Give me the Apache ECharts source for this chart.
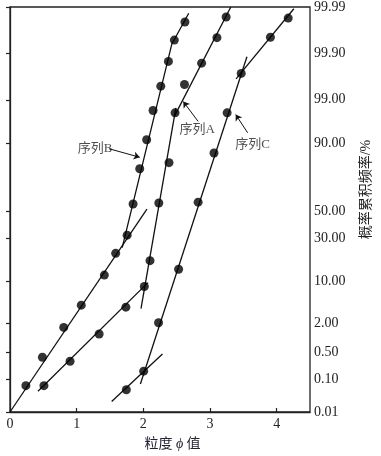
<!DOCTYPE html>
<html><head><meta charset="utf-8">
<script src="https://cdn.jsdelivr.net/npm/echarts@6/dist/echarts.min.js"></script>
<style>html,body{margin:0;padding:0;background:#fff}#c{width:381px;height:456px}</style>
</head><body><div id="c"></div>
<script>
// ---- axis definitions ----
const xTicks = [0, 1, 2, 3, 4];
const yTickValues = [0.01, 0.1, 0.5, 2, 10, 30, 50, 90, 99, 99.9, 99.99];
const yTickLabels = ['0.01', '0.10', '0.50', '2.00', '10.00', '30.00', '50.00', '90.00', '99.00', '99.90', '99.99'];
// gauge of the printed probability paper (axis units of each tick)
const yTickScale = [0, 32.7, 60.3, 89, 131.3, 173.7, 201.3, 269, 313, 359.7, 406];

// ---- data: particle size (phi) and cumulative frequency (%) ----
const seriesNames = ['序列A', '序列B', '序列C'];
const phiA = [3.242, 3.104, 2.874, 2.617, 2.476, 2.385, 2.232, 2.100, 2.015, 1.738, 1.337, 0.901, 0.509];
const pctA = [99.983, 99.952, 99.829, 99.50, 97.81, 82.15, 56.2, 17.96, 8.34, 3.92, 1.22, 0.297, 0.066];
const phiB = [2.624, 2.465, 2.376, 2.262, 2.146, 2.050, 1.946, 1.846, 1.757, 1.585, 1.415, 1.069, 0.806, 0.486, 0.238];
const pctB = [99.978, 99.946, 99.844, 99.46, 98.08, 91.55, 79.0, 55.4, 32.4, 21.6, 12.0, 4.24, 1.66, 0.371, 0.066];
const phiC = [4.173, 3.906, 3.468, 3.257, 3.06, 2.822, 2.529, 2.228, 2.005, 1.745];
const pctC = [99.982, 99.953, 99.71, 97.81, 86.54, 56.8, 14.2, 2.04, 0.166, 0.050];

// fitted population segments: [phi, pct] vertices
const fitA = [[[3.312, 99.99], [2.465, 97.32]], [[2.488, 98.36], [1.965, 3.71]], [[0.420, 0.045], [2.069, 9.50]]];
const fitB = [[[2.681, 99.986], [2.428, 99.935], [1.683, 24.7]], [[0, 0.01], [2.054, 51.6]]];
const fitC = [[[4.258, 99.989], [3.391, 99.62]], [[3.554, 99.878], [1.956, 0.074]], [[1.525, 0.0217], [2.287, 0.443]]];

// annotation anchors [phi, pct]
const labelPos = [[2.807, 94.66], [1.277, 88.43], [3.639, 89.64]];
const arrowFrom = [[2.822, 96.49], [1.485, 88.2], [3.564, 93.84]];
const arrowTo = [[2.599, 98.88], [1.946, 84.7], [3.386, 97.58]];

// ---- probability scale ----
function probit(p) {
  const a = [-3.969683028665376e+01, 2.209460984245205e+02, -2.759285104469687e+02, 1.383577518672690e+02, -3.066479806614716e+01, 2.506628277459239e+00];
  const b = [-5.447609879822406e+01, 1.615858368580409e+02, -1.556989798598866e+02, 6.680131188771972e+01, -1.328068155288572e+01];
  const c = [-7.784894002430293e-03, -3.223964580411365e-01, -2.400758277161838e+00, -2.549732539343734e+00, 4.374664141464968e+00, 2.938163982698783e+00];
  const d = [7.784695709041462e-03, 3.224671290700398e-01, 2.445134137142996e+00, 3.754408661907416e+00];
  const pl = 0.02425, ph = 1 - pl; let q, r;
  if (p < pl) { q = Math.sqrt(-2 * Math.log(p)); return (((((c[0]*q+c[1])*q+c[2])*q+c[3])*q+c[4])*q+c[5]) / ((((d[0]*q+d[1])*q+d[2])*q+d[3])*q+1); }
  if (p > ph) { q = Math.sqrt(-2 * Math.log(1 - p)); return -(((((c[0]*q+c[1])*q+c[2])*q+c[3])*q+c[4])*q+c[5]) / ((((d[0]*q+d[1])*q+d[2])*q+d[3])*q+1); }
  q = p - 0.5; r = q * q;
  return (((((a[0]*r+a[1])*r+a[2])*r+a[3])*r+a[4])*r+a[5])*q / (((((b[0]*r+b[1])*r+b[2])*r+b[3])*r+b[4])*r+1);
}
const tickZ = yTickValues.map(v => probit(v / 100));
function toAxis(pct) {
  const z = probit(pct / 100);
  let i = 0;
  while (i < tickZ.length - 2 && z > tickZ[i + 1]) i++;
  const f = (z - tickZ[i]) / (tickZ[i + 1] - tickZ[i]);
  return yTickScale[i] + f * (yTickScale[i + 1] - yTickScale[i]);
}
const pt = d => [d[0], toAxis(d[1])];

const INK = '#111';
const FONT = '"Liberation Serif", "Noto Sans CJK SC", serif';
const points = [[phiA, pctA], [phiB, pctB], [phiC, pctC]];
const fits = [fitA, fitB, fitC];

const series = [];
fits.forEach((segs, k) => {
  segs.forEach(seg => {
    series.push({
      type: 'line', name: seriesNames[k] + '拟合', data: seg.map(pt), symbol: 'none', silent: true,
      lineStyle: { color: INK, width: 1.3 }, z: 2
    });
  });
});
points.forEach(([xs, ps], k) => {
  series.push({
    type: 'scatter', name: seriesNames[k], data: xs.map((x, i) => [x, toAxis(ps[i])]),
    symbol: 'circle', symbolSize: 9, itemStyle: { color: '#000' }, z: 3
  });
});
series.push({
  type: 'scatter', name: 'labels', symbolSize: 0, silent: true,
  data: labelPos.map((p, i) => ({ value: pt(p), label: { formatter: seriesNames[i] } })),
  label: { show: true, position: 'inside', color: '#222', fontSize: 13, fontFamily: FONT }
});
series.push({
  type: 'lines', coordinateSystem: 'cartesian2d', silent: true,
  symbol: ['none', 'arrow'], symbolSize: 6,
  lineStyle: { color: INK, width: 1, opacity: 1 },
  data: arrowFrom.map((f, i) => ({ coords: [pt(f), pt(arrowTo[i])] }))
});

const chart = echarts.init(document.getElementById('c'), null, { renderer: 'canvas' });
chart.setOption({
  animation: false,
  backgroundColor: '#fff',
  grid: { left: 10, right: 68, top: 7, bottom: 43, show: true, borderColor: '#222', borderWidth: 1.3, backgroundColor: 'transparent' },
  xAxis: {
    type: 'value', min: 0, max: 4.5,
    name: '{a|粒度 }{b|ϕ}{a| 值}', nameLocation: 'middle', nameGap: 25,
    nameTextStyle: { padding: [0, 0, 0, 25], rich: {
      a: { fontSize: 14, color: '#223', fontFamily: FONT },
      b: { fontSize: 14, color: '#223', fontFamily: FONT, fontStyle: 'italic' } } },
    axisLine: { lineStyle: { color: '#222', width: 1.3 } },
    axisTick: { inside: true, length: 4, lineStyle: { color: '#222', width: 1.2 }, customValues: xTicks },
    axisLabel: { color: '#222', fontSize: 14, fontFamily: FONT, margin: 5, customValues: xTicks },
    splitLine: { show: false }
  },
  yAxis: {
    type: 'value', position: 'right', min: 0, max: yTickScale[yTickScale.length - 1],
    name: '概率累积频率/%', nameLocation: 'middle', nameGap: 49, nameRotate: 90,
    nameTextStyle: { color: '#222', fontSize: 14, fontFamily: FONT, padding: [0, 0, 0, 40] },
    axisLine: { show: true, lineStyle: { color: '#222', width: 1.3 } },
    axisTick: { show: true, inside: true, length: 4, lineStyle: { color: '#222', width: 1.2 }, customValues: yTickScale },
    axisLabel: { color: '#222', fontSize: 14, fontFamily: FONT, margin: 4, customValues: yTickScale,
      formatter: v => { const i = yTickScale.findIndex(t => Math.abs(t - v) < 1e-6); return i >= 0 ? yTickLabels[i] : ''; } },
    splitLine: { show: false }
  },
  series
});
</script></body></html>
